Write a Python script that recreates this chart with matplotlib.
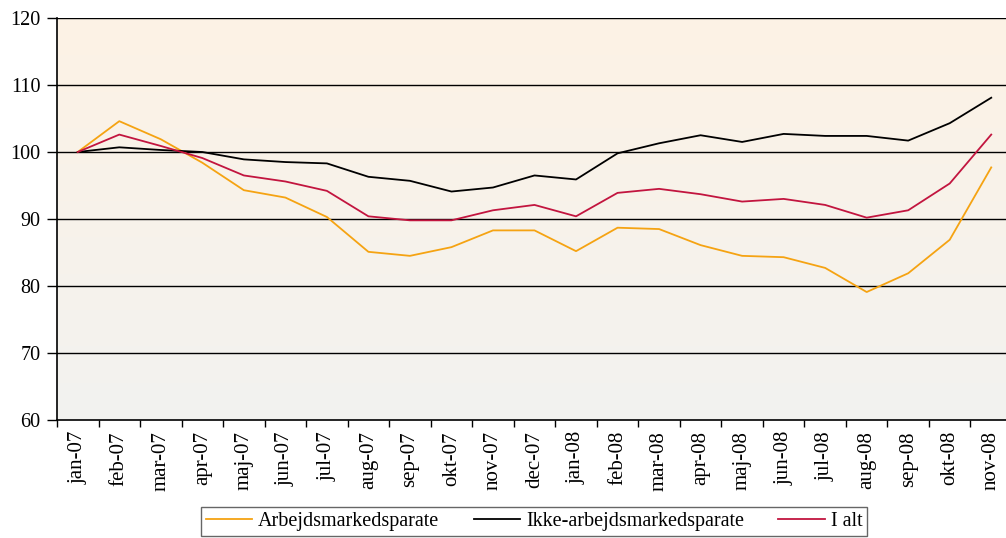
import numpy as np
import matplotlib.pyplot as plt
from matplotlib.colors import LinearSegmentedColormap

plt.rcParams['font.family'] = ['Liberation Serif', 'DejaVu Serif']

months = ['jan-07', 'feb-07', 'mar-07', 'apr-07', 'maj-07', 'jun-07', 'jul-07',
          'aug-07', 'sep-07', 'okt-07', 'nov-07', 'dec-07', 'jan-08', 'feb-08',
          'mar-08', 'apr-08', 'maj-08', 'jun-08', 'jul-08', 'aug-08', 'sep-08',
          'okt-08', 'nov-08']
arbejds = [100, 104.6, 101.9, 98.4, 94.3, 93.2, 90.3, 85.1, 84.5, 85.8, 88.3, 88.3,
           85.2, 88.7, 88.5, 86.1, 84.5, 84.3, 82.7, 79.1, 81.9, 86.9, 97.7]
ikke = [100, 100.7, 100.3, 100.0, 98.9, 98.5, 98.3, 96.3, 95.7, 94.1, 94.7, 96.5,
        95.9, 99.8, 101.3, 102.5, 101.5, 102.7, 102.4, 102.4, 101.7, 104.3, 108.1]
i_alt = [100, 102.6, 100.9, 99.1, 96.5, 95.6, 94.2, 90.4, 89.8, 89.8, 91.3, 92.1,
         90.4, 93.9, 94.5, 93.7, 92.6, 93.0, 92.1, 90.2, 91.3, 95.3, 102.6]

fig = plt.figure(figsize=(10.06, 5.38), dpi=100)
ax = fig.add_axes([57 / 1006, 118 / 538, 955 / 1006, 402 / 538])

x = np.arange(len(months))

# baggrund: gradient fra lys fersken til lysegraa
cmap = LinearSegmentedColormap.from_list('bg', ['#f2f2f0', '#fdf3e5'])
ax.imshow(np.linspace(0, 1, 256).reshape(-1, 1), cmap=cmap, aspect='auto',
          extent=(-0.5, len(months) - 0.5, 60, 120), origin='lower', zorder=0)

for yv in range(70, 121, 10):
    ax.axhline(yv, color='black', lw=1, zorder=1)

ax.plot(x, arbejds, color='#f5a312', lw=1.3, label='Arbejdsmarkedsparate', zorder=3)
ax.plot(x, ikke, color='black', lw=1.3, label='Ikke-arbejdsmarkedsparate', zorder=3)
ax.plot(x, i_alt, color='#c2153f', lw=1.3, label='I alt', zorder=3)

ax.set_xlim(-0.5, len(months) - 0.5)
ax.set_ylim(60, 120)
ax.set_yticks(range(60, 121, 10))
ax.set_xticks(x)
ax.set_xticklabels(months, rotation=90, fontsize=15)
ax.set_xticks(np.arange(len(months) + 1) - 0.5, minor=True)
ax.tick_params(axis='x', which='major', length=0, pad=8)
ax.tick_params(axis='x', which='minor', length=5, width=1, direction='out')
ax.tick_params(axis='y', length=7, width=1, pad=5, labelsize=14.5)

for s in ['top', 'right']:
    ax.spines[s].set_visible(False)
ax.spines['left'].set_linewidth(1.2)
ax.spines['bottom'].set_linewidth(1.2)

leg = fig.legend(loc='upper center', bbox_to_anchor=(534 / 1006, 1 - 507 / 538),
                 ncol=3, frameon=True, fancybox=False, fontsize=14.5,
                 handlelength=2.3, columnspacing=1.7, handletextpad=0.3,
                 borderpad=0.25, borderaxespad=0)
leg.get_frame().set_edgecolor('#404040')
leg.get_frame().set_linewidth(1)

fig.savefig('out.png', dpi=100)
